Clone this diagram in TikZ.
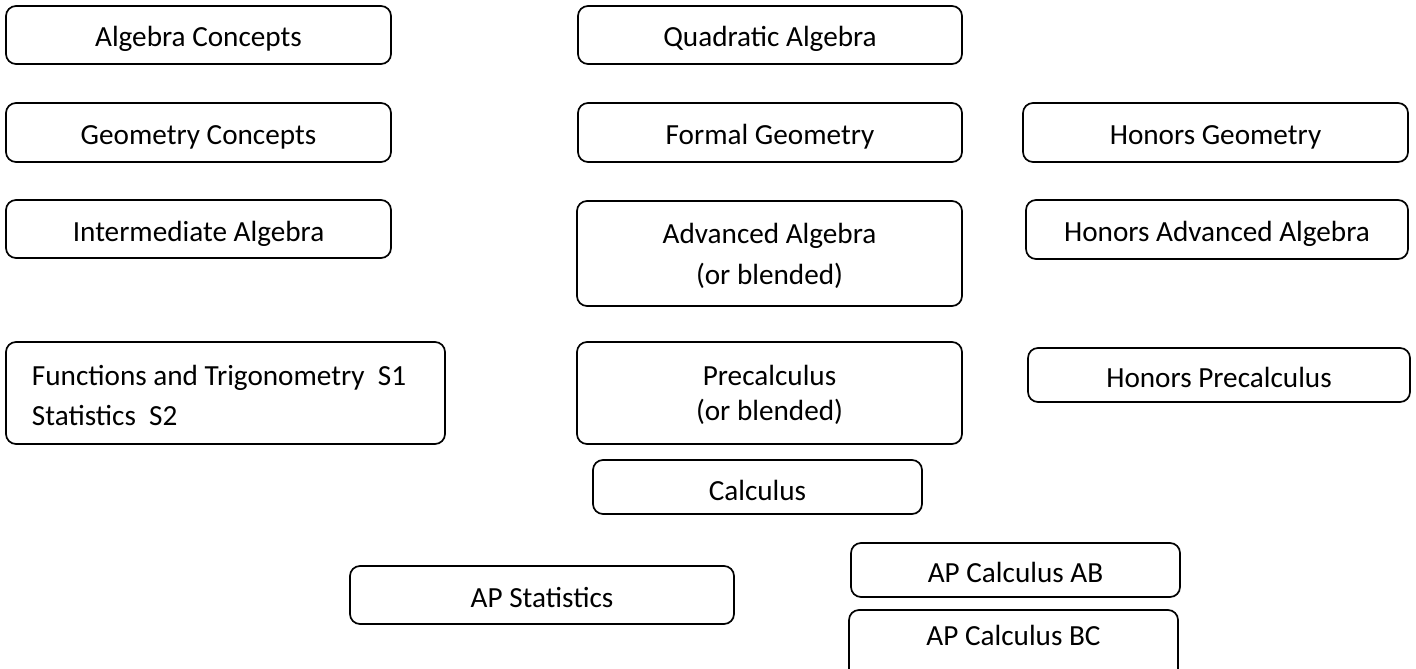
\documentclass[tikz,border=0pt]{standalone}
\usepackage{fontspec}
\setmainfont{Carlito}
\usepackage{tikz}

\begin{document}
\begin{tikzpicture}[x=0.5pt,y=-0.5pt,
    course/.style={draw,line width=0.85pt,rounded corners=5pt,rectangle,inner sep=0pt,align=center,
        text height=12pt,text depth=0pt,font=\fontsize{14.6}{19}\selectfont}]
    \useasboundingbox (0,0) rectangle (1416,668);
    \clip (0,0) rectangle (1416,668);
    \node[course,minimum width=192.5pt,minimum height=29pt] (algc) at (198.5,35) {Algebra Concepts};
    \node[course,minimum width=192.5pt,minimum height=29.5pt] (geoc) at (198.5,132.5) {Geometry Concepts};
    \node[course,minimum width=192.5pt,minimum height=29pt] (interalg) at (198.5,229) {Intermediate Algebra};
    \node[course,align=flush left,inner xsep=13pt,text width=193.5pt,minimum height=51pt,
        text height=10pt,text depth=18pt] (functrig) at (225.5,393)
        {Functions and Trigonometry\ \ S1\\[1pt]Statistics\ \ S2};
    \node[course,minimum width=192pt,minimum height=29pt] (quadalg) at (770,35) {Quadratic Algebra};
    \node[course,minimum width=192pt,minimum height=29.5pt] (formgeo) at (770,132.5) {Formal Geometry};
    \node[course,minimum width=192.5pt,minimum height=52.5pt,text height=30.5pt] (advalg)
        at (769.5,253.5) {Advanced Algebra\\[1.5pt](or blended)};
    \node[course,minimum width=192.5pt,minimum height=51pt,text height=27pt] (precalc)
        at (769.5,393) {Precalculus\\[-1.5pt](or blended)};
    \node[course,minimum width=164.5pt,minimum height=27pt,text height=13pt] (calc) at (757.5,487) {Calculus};
    \node[course,minimum width=192.5pt,minimum height=29.5pt] (hgeo) at (1215.5,132.5) {Honors Geometry};
    \node[course,minimum width=191pt,minimum height=29.5pt] (hadvalg) at (1217,229.5) {Honors Advanced Algebra};
    \node[course,minimum width=191pt,minimum height=27pt] (hprecalc) at (1219,375) {Honors Precalculus};
    \node[course,minimum width=192pt,minimum height=29pt] (apstat) at (542,595) {AP Statistics};
    \node[course,minimum width=164.5pt,minimum height=27pt] (apab) at (1015.5,570) {AP Calculus AB};
    \node[course,minimum width=164.5pt,minimum height=35pt,text height=10pt,text depth=10pt] (apbc)
        at (1013.5,645) {AP Calculus BC};
\end{tikzpicture}
\end{document}
